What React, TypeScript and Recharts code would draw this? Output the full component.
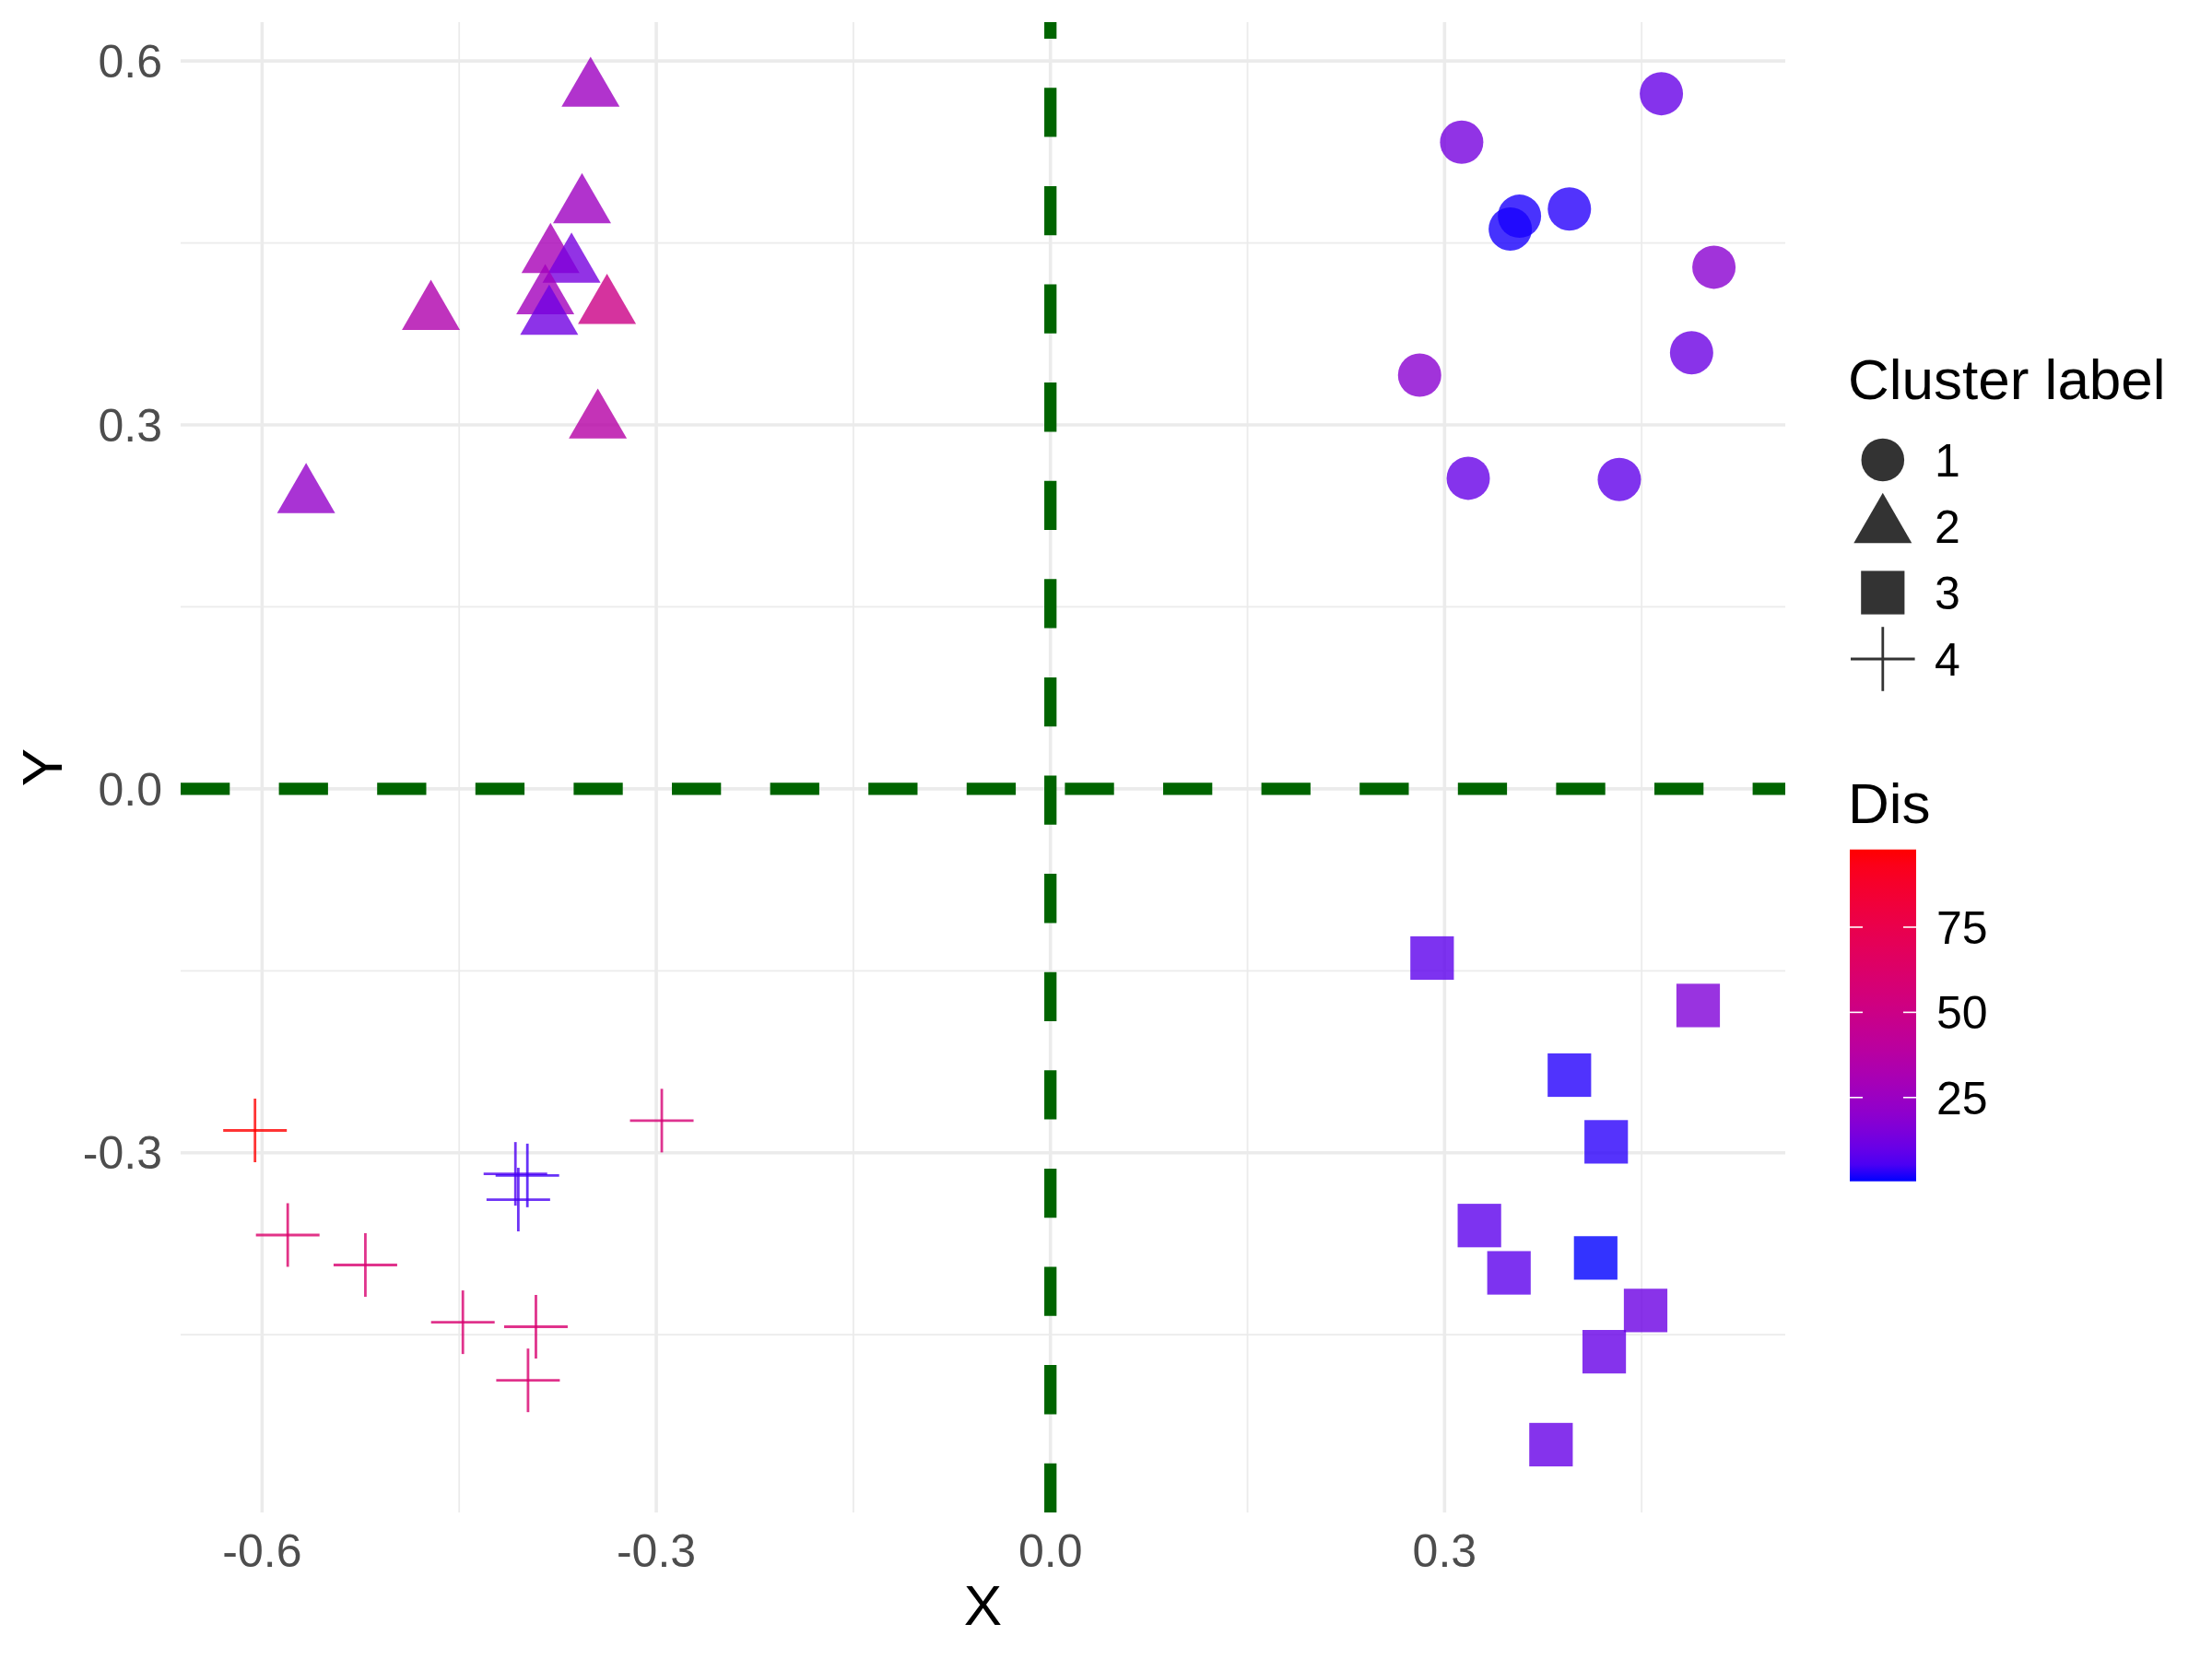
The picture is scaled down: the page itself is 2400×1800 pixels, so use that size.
import { ScatterChart, Scatter, XAxis, YAxis, ReferenceLine } from 'recharts';

const FONT = '"Liberation Sans", Arial, Helvetica, sans-serif';

// axis ticks and grid
const xTicks = [-0.6, -0.3, 0, 0.3];
const yTicks = [-0.3, 0, 0.3, 0.6];
const xMinor = [-0.45, -0.15, 0.15, 0.45];
const yMinor = [-0.45, -0.15, 0.15, 0.45];
const disTicks = [25, 50, 75];
const clusterLabels = ['1', '2', '3', '4'];

// cluster 1 (circles)
const c1X = [0.465, 0.313, 0.357, 0.350, 0.395, 0.505, 0.488, 0.281, 0.318, 0.433];
const c1Y = [0.573, 0.533, 0.472, 0.4615, 0.478, 0.430, 0.3595, 0.341, 0.256, 0.255];
const c1Dis = [10, 13, 1.2, 1.0, 1.8, 19, 11, 19, 10, 8.6];

// cluster 2 (triangles)
const c2X = [-0.35, -0.3565, -0.3805, -0.3645, -0.3845, -0.3815, -0.3375, -0.4715, -0.3445, -0.5665];
const c2Y = [0.576, 0.480, 0.439, 0.431, 0.405, 0.388, 0.397, 0.392, 0.3025, 0.241];
const c2Dis = [26, 26, 30, 13.5, 28, 12, 50, 34, 37, 22];

// cluster 3 (squares)
const c3X = [0.2905, 0.493, 0.395, 0.423, 0.3265, 0.349, 0.415, 0.453, 0.4215, 0.381];
const c3Y = [-0.1395, -0.1786, -0.236, -0.291, -0.360, -0.399, -0.3867, -0.430, -0.464, -0.5406];
const c3Dis = [8, 16, 1.6, 2, 8, 8, 0.4, 11, 10, 10];

// cluster 4 (crosses)
const c4X = [-0.6054, -0.2958, -0.5805, -0.5214, -0.4472, -0.3916, -0.3976, -0.4072, -0.3981, -0.405];
const c4Y = [-0.2816, -0.2735, -0.3678, -0.3925, -0.4397, -0.4434, -0.4876, -0.3174, -0.3187, -0.3386];
const c4Dis = [97.8, 58, 62, 60, 60, 60, 60, 6, 4, 5];

const build = (xs: number[], ys: number[], ds: number[]) =>
  xs.map((x, i) => ({ x, y: ys[i], dis: ds[i] }));

const cluster1 = build(c1X, c1Y, c1Dis);
const cluster2 = build(c2X, c2Y, c2Dis);
const cluster3 = build(c3X, c3Y, c3Dis);
const cluster4 = build(c4X, c4Y, c4Dis);

const allDis = [...c1Dis, ...c2Dis, ...c3Dis, ...c4Dis];
const disMin = Math.min(...allDis);
const disMax = Math.max(...allDis);

// blue -> red in Lab space, like ggplot's scale_colour_gradient
const toLin = (c: number) => {
  const v = c / 255;
  return v <= 0.04045 ? v / 12.92 : Math.pow((v + 0.055) / 1.055, 2.4);
};
const toSrgb = (v: number) => {
  const c = Math.max(0, Math.min(1, v));
  const s = c <= 0.0031308 ? 12.92 * c : 1.055 * Math.pow(c, 1 / 2.4) - 0.055;
  return Math.round(Math.max(0, Math.min(1, s)) * 255);
};
const f = (t: number) => (t > 0.008856 ? Math.cbrt(t) : 7.787 * t + 16 / 116);
const fInv = (t: number) => (t * t * t > 0.008856 ? t * t * t : (t - 16 / 116) / 7.787);

function rgbToLab(r: number, g: number, b: number) {
  const R = toLin(r), G = toLin(g), B = toLin(b);
  const X = (0.4124 * R + 0.3576 * G + 0.1805 * B) / 0.95047;
  const Y = 0.2126 * R + 0.7152 * G + 0.0722 * B;
  const Z = (0.0193 * R + 0.1192 * G + 0.9505 * B) / 1.08883;
  const fx = f(X), fy = f(Y), fz = f(Z);
  return [116 * fy - 16, 500 * (fx - fy), 200 * (fy - fz)];
}

function labToHex(L: number, a: number, b: number) {
  const fy = (L + 16) / 116;
  const fx = fy + a / 500;
  const fz = fy - b / 200;
  const X = fInv(fx) * 0.95047, Y = fInv(fy), Z = fInv(fz) * 1.08883;
  const R = 3.2406 * X - 1.5372 * Y - 0.4986 * Z;
  const G = -0.9689 * X + 1.8758 * Y + 0.0415 * Z;
  const B = 0.0557 * X - 0.204 * Y + 1.057 * Z;
  const h = (n: number) => toSrgb(n).toString(16).padStart(2, '0');
  return `#${h(R)}${h(G)}${h(B)}`;
}

const LOW = rgbToLab(0, 0, 255);
const HIGH = rgbToLab(255, 0, 0);

const rampColor = (t: number) =>
  labToHex(
    LOW[0] + (HIGH[0] - LOW[0]) * t,
    LOW[1] + (HIGH[1] - LOW[1]) * t,
    LOW[2] + (HIGH[2] - LOW[2]) * t
  );

const disColor = (d: number) => rampColor((d - disMin) / (disMax - disMin));

const ALPHA = 0.8;

const circleShape = (p: any) => (
  <circle cx={p.cx} cy={p.cy} r={23.5} fill={disColor(p.payload.dis)} fillOpacity={ALPHA} />
);

const triangleShape = (p: any) => {
  const r = 36.3;
  const hw = 31.5;
  const pts = `${p.cx},${p.cy - r} ${p.cx + hw},${p.cy + r / 2} ${p.cx - hw},${p.cy + r / 2}`;
  return <polygon points={pts} fill={disColor(p.payload.dis)} fillOpacity={ALPHA} />;
};

const squareShape = (p: any) => (
  <rect x={p.cx - 23.6} y={p.cy - 23.6} width={47.2} height={47.2} fill={disColor(p.payload.dis)} fillOpacity={ALPHA} />
);

const crossShape = (p: any) => {
  const h = 34.5;
  const col = disColor(p.payload.dis);
  return (
    <g stroke={col} strokeOpacity={ALPHA} strokeWidth={2.8}>
      <line x1={p.cx - h} y1={p.cy} x2={p.cx + h} y2={p.cy} />
      <line x1={p.cx} y1={p.cy - h} x2={p.cx} y2={p.cy + h} />
    </g>
  );
};

function Legend() {
  const keyX = 2042.8;
  const rowY = (i: number) => 499 + 72 * i;
  const barTop = 921.7;
  const barBottom = 1281.7;
  const barY = (d: number) => barBottom - ((d - disMin) / (disMax - disMin)) * (barBottom - barTop);
  const stops = Array.from({ length: 21 }, (_, i) => i / 20);
  return (
    <svg width={2400} height={1800} style={{ position: 'absolute', left: 0, top: 0, pointerEvents: 'none' }}>
      <defs>
        <linearGradient id="disGrad" x1="0" y1="1" x2="0" y2="0">
          {stops.map((t) => (
            <stop key={t} offset={t} stopColor={rampColor(t)} />
          ))}
        </linearGradient>
      </defs>
      <g fontFamily={FONT}>
        <text x={2005} y={433} fontSize={62} fill="#000">Cluster label</text>
        <circle cx={keyX} cy={rowY(0)} r={23.3} fill="#333333" />
        <polygon
          points={`${keyX},${rowY(1) - 36.3} ${keyX + 31.5},${rowY(1) + 18.2} ${keyX - 31.5},${rowY(1) + 18.2}`}
          fill="#333333"
        />
        <rect x={keyX - 23.6} y={rowY(2) - 23.6} width={47.2} height={47.2} fill="#333333" />
        <g stroke="#333333" strokeWidth={2.8}>
          <line x1={keyX - 34.8} y1={rowY(3)} x2={keyX + 34.8} y2={rowY(3)} />
          <line x1={keyX} y1={rowY(3) - 34.8} x2={keyX} y2={rowY(3) + 34.8} />
        </g>
        {clusterLabels.map((l, i) => (
          <text key={l} x={2099} y={rowY(i) + 17.5} fontSize={50} fill="#000">{l}</text>
        ))}

        <text x={2005} y={893} fontSize={62} fill="#000">Dis</text>
        <rect x={2007} y={barTop} width={72} height={barBottom - barTop} fill="url(#disGrad)" />
        {disTicks.map((d) => (
          <g key={d}>
            <line x1={2007} x2={2021} y1={barY(d)} y2={barY(d)} stroke="#ffffff" strokeWidth={1.6} />
            <line x1={2065} x2={2079} y1={barY(d)} y2={barY(d)} stroke="#ffffff" strokeWidth={1.6} />
            <text x={2101} y={barY(d) + 18} fontSize={50} fill="#000">{d}</text>
          </g>
        ))}
      </g>
    </svg>
  );
}

export default function App() {
  const tickStyle = { fill: '#4D4D4D', fontSize: 50, fontFamily: FONT };
  return (
    <div style={{ position: 'absolute', left: 0, top: 0, width: 2400, height: 1800, background: '#ffffff' }}>
      <ScatterChart width={2400} height={1800} margin={{ top: 24, right: 463, bottom: 0, left: 0 }}>
        <XAxis
          dataKey="x"
          type="number"
          domain={[-0.662, 0.5593]}
          allowDataOverflow
          ticks={xTicks}
          interval={0}
          tickFormatter={(v: number) => v.toFixed(1)}
          height={159}
          axisLine={false}
          tickLine={false}
          tickSize={0}
          tickMargin={23}
          tick={tickStyle}
          label={{
            content: (p: any) => {
              const vb = p.viewBox;
              return (
                <text x={vb.x + vb.width / 2} y={vb.y + vb.height - 37} textAnchor="middle" fontSize={62} fontFamily={FONT} fill="#000">
                  X
                </text>
              );
            },
          }}
        />
        <YAxis
          dataKey="y"
          type="number"
          domain={[-0.5965, 0.632]}
          allowDataOverflow
          ticks={yTicks}
          interval={0}
          tickFormatter={(v: number) => v.toFixed(1)}
          width={196}
          axisLine={false}
          tickLine={false}
          tickSize={0}
          tickMargin={20}
          tick={tickStyle}
          label={{
            content: (p: any) => {
              const vb = p.viewBox;
              const lx = vb.x + 67;
              const ly = vb.y + vb.height / 2;
              return (
                <text x={lx} y={ly} transform={`rotate(-90 ${lx} ${ly})`} textAnchor="middle" fontSize={62} fontFamily={FONT} fill="#000">
                  Y
                </text>
              );
            },
          }}
        />
        {xMinor.map((v) => (
          <ReferenceLine key={`xm${v}`} x={v} stroke="#EBEBEB" strokeWidth={1.8} />
        ))}
        {yMinor.map((v) => (
          <ReferenceLine key={`ym${v}`} y={v} stroke="#EBEBEB" strokeWidth={1.8} />
        ))}
        {xTicks.map((v) => (
          <ReferenceLine key={`xM${v}`} x={v} stroke="#EBEBEB" strokeWidth={3.6} />
        ))}
        {yTicks.map((v) => (
          <ReferenceLine key={`yM${v}`} y={v} stroke="#EBEBEB" strokeWidth={3.6} />
        ))}
        <ReferenceLine y={0} stroke="#006400" strokeWidth={13.3} strokeDasharray="53.3 53.3" />
        <ReferenceLine x={0} stroke="#006400" strokeWidth={13.3} strokeDasharray="53.3 53.3" />
        <Scatter data={cluster1} shape={circleShape} isAnimationActive={false} />
        <Scatter data={cluster2} shape={triangleShape} isAnimationActive={false} />
        <Scatter data={cluster3} shape={squareShape} isAnimationActive={false} />
        <Scatter data={cluster4} shape={crossShape} isAnimationActive={false} />
      </ScatterChart>
      <Legend />
    </div>
  );
}
